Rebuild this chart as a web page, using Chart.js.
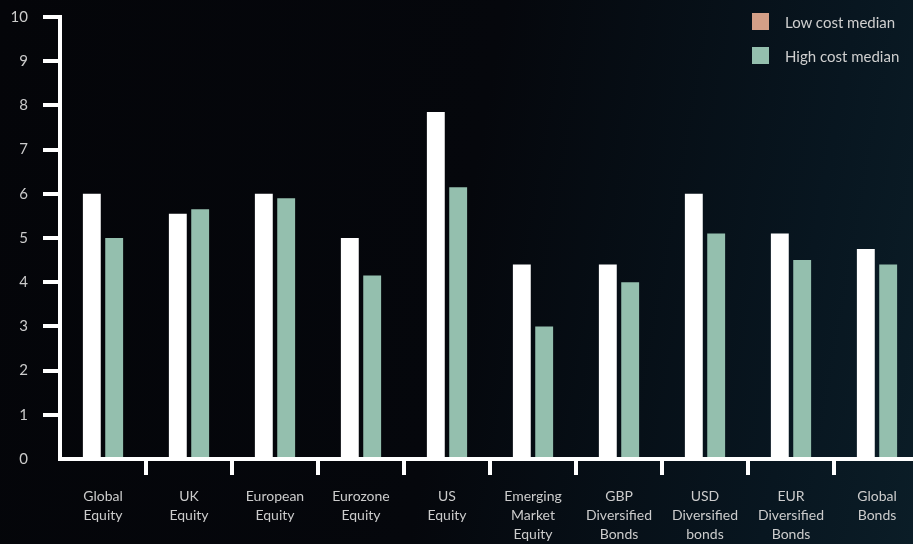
<!DOCTYPE html>
<html>
<head>
<meta charset="utf-8">
<script src="https://cdn.jsdelivr.net/npm/chart.js@4/dist/chart.umd.min.js"></script>
<style>
  html, body {
    margin: 0;
    width: 913px;
    height: 544px;
    overflow: hidden;
    background: linear-gradient(100deg, #040509 0%, #05070c 50%, #081620 85%, #0b1d27 100%);
    font-family: Lato, "Open Sans", sans-serif;
  }
  #wrap { position: relative; width: 920px; height: 544px; }
  #legend { position: absolute; left: 752px; top: 13px; color: #cfcfcf; font-size: 15px; }
  .item { display: flex; align-items: center; height: 17px; margin-bottom: 17px; }
  .swatch { width: 17px; height: 17px; margin-right: 16px; }
</style>
</head>
<body>
<div id="wrap">
  <canvas id="chart" width="920" height="544"></canvas>
  <div id="legend"></div>
</div>
<script>
// Categories and values
const categories = [
    ["Global", "Equity"],
    ["UK", "Equity"],
    ["European", "Equity"],
    ["Eurozone", "Equity"],
    ["US", "Equity"],
    ["Emerging", "Market", "Equity"],
    ["GBP", "Diversified", "Bonds"],
    ["USD", "Diversified", "bonds"],
    ["EUR", "Diversified", "Bonds"],
    ["Global", "Bonds"]
];
const lowCost = [6.0, 5.55, 6.0, 5.0, 7.85, 4.4, 4.4, 6.0, 5.1, 4.75];
const highCost = [5.0, 5.65, 5.9, 4.15, 6.15, 3.0, 4.0, 5.1, 4.5, 4.4];
const yTicks = [0, 1, 2, 3, 4, 5, 6, 7, 8, 9, 10];

// Legend (the original shows an orange swatch for the white bars)
const legendItems = [
    { label: "Low cost median", color: "#d49f87" },
    { label: "High cost median", color: "#94bfae" }
];
const legend = document.getElementById("legend");
legendItems.forEach((it) => {
    const row = document.createElement("div");
    row.className = "item";
    row.innerHTML = `<span class="swatch" style="background:${it.color}"></span><span>${it.label}</span>`;
    legend.appendChild(row);
});

const tickFont = { family: "Lato, 'Open Sans', sans-serif", size: 14, lineHeight: "19px" };

new Chart(document.getElementById("chart"), {
    type: "bar",
    data: {
        labels: categories,
        datasets: [
            { label: "Low cost median", data: lowCost, backgroundColor: "#ffffff" },
            { label: "High cost median", data: highCost, backgroundColor: "#94bfae" }
        ]
    },
    options: {
        responsive: false,
        animation: false,
        layout: { padding: { top: 17, left: 0, right: 0, bottom: 0 } },
        categoryPercentage: 0.52,
        barPercentage: 0.8,
        plugins: { legend: { display: false }, tooltip: { enabled: false } },
        scales: {
            x: {
                z: 1,
                grid: {
                    offset: true,
                    drawOnChartArea: false,
                    tickLength: 16,
                    lineWidth: 4,
                    color: (ctx) => (ctx.index === 0 || ctx.index === categories.length ? "transparent" : "#ffffff")
                },
                border: { color: "#ffffff", width: 4 },
                ticks: { color: "#cccccc", font: tickFont, padding: 12, maxRotation: 0, autoSkip: false },
                afterFit: (s) => { s.height = 85; s.paddingLeft = 0; s.paddingRight = 0; }
            },
            y: {
                z: 1,
                min: 0,
                max: 10,
                afterBuildTicks: (s) => { s.ticks = yTicks.map((v) => ({ value: v })); },
                grid: {
                    drawOnChartArea: false,
                    tickLength: 17,
                    lineWidth: 4,
                    color: (ctx) => (ctx.index === 0 ? "transparent" : "#ffffff")
                },
                border: { color: "#ffffff", width: 4 },
                ticks: { color: "#cccccc", font: { ...tickFont, size: 15 }, padding: 15 },
                afterFit: (s) => { s.width = 60; s.paddingTop = 0; s.paddingBottom = 0; }
            }
        }
    }
});
</script>
</body>
</html>
